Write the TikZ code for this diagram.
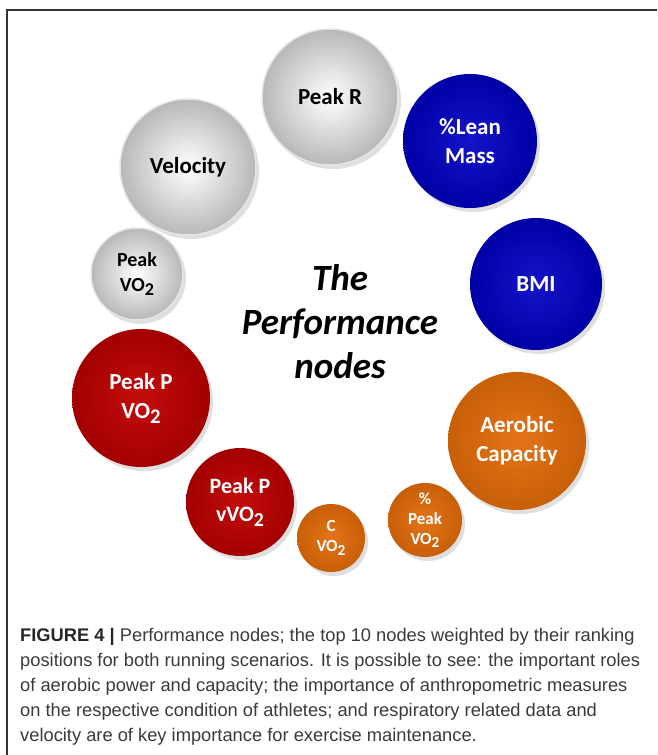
\documentclass[tikz,border=0pt]{standalone}
\usepackage{fontspec}
\setmainfont{Carlito}
\newfontfamily\capfont{Liberation Sans}
\usetikzlibrary{shadows}
\definecolor{leanblue}{HTML}{0000C4}
\definecolor{peakred}{HTML}{C00000}
\definecolor{aeroorange}{HTML}{E36C0A}
\definecolor{captext}{HTML}{3A3A3A}
\newcommand{\sub}[1]{\raisebox{-0.45ex}{\scalebox{0.9}{#1}}}

\begin{document}
\begin{tikzpicture}[
    x = 1pt, y = -1pt,
    ball/.style={circle, inner sep=0pt, align=center,
        drop shadow={shadow xshift=3pt, shadow yshift=-4pt, opacity=.25}},
    big/.style={font=\fontsize{23}{29}\selectfont\bfseries},
    small/.style={font=\fontsize{17}{20}\selectfont\bfseries},
    greyball/.style={ball, shading=radial, inner color=white, outer color=black!28,
        draw=black!10, line width=1.5pt, text=black},
    blueball/.style={ball, shading=radial, inner color=leanblue!92!white, outer color=leanblue!85!black,
        text=white},
    redball/.style={ball, shading=radial, inner color=peakred!95!white, outer color=peakred!85!black,
        text=white},
    orangeball/.style={ball, shading=radial, inner color=aeroorange!95!white, outer color=aeroorange!88!black,
        text=white}
]
    \useasboundingbox (0,0) rectangle (657,755);
    \draw[line width=1.2pt, black!80] (7,755) -- (7,10) -- (657,10);

    % grey nodes
    \node[greyball, big, minimum size=136pt] (peakr) at (330,97) {Peak R};
    \node[greyball, big, minimum size=136pt] (velocity) at (188,167) {Velocity};
    \node[greyball, font=\fontsize{20}{25}\selectfont\bfseries, minimum size=92pt] (peakvo) at (137,274) {Peak\\VO\sub{2}};

    % blue nodes
    \node[blueball, big, minimum size=134pt] (lean) at (470,141) {\%Lean\\Mass};
    \node[blueball, big, minimum size=132pt] (bmi) at (536,284) {BMI};

    % red nodes
    \node[redball, big, minimum size=138pt] (peakpvo) at (141,398) {Peak P\\VO\sub{2}};
    \node[redball, font=\fontsize{22}{28}\selectfont\bfseries, minimum size=108pt] (peakpvvo) at (240,502) {Peak P\\vVO\sub{2}};

    % orange nodes
    \node[orangeball, big, minimum size=138pt] (aerobic) at (517,441) {Aerobic\\Capacity};
    \node[orangeball, small, minimum size=68pt] (cvo) at (331,538) {C\\VO\sub{2}};
    \node[orangeball, small, minimum size=74pt] (pctpeak) at (425,520) {\%\\Peak\\VO\sub{2}};

    \node[align=center, font=\fontsize{37}{44}\selectfont\bfseries\itshape] (title) at (340,322)
        {The\\Performance\\nodes};

    \node[anchor=north west, align=left, inner sep=0pt, text=captext,
        font=\capfont\fontsize{18.3}{25}\selectfont] (caption) at (20,628)
        {\textbf{\color{black!85}FIGURE 4 |} Performance nodes; the top 10 nodes weighted by their ranking\\
         positions for both running scenarios. It is possible to see: the important roles\\
         of aerobic power and capacity; the importance of anthropometric measures\\
         on the respective condition of athletes; and respiratory related data and\\
         velocity are of key importance for exercise maintenance.};
\end{tikzpicture}
\end{document}
